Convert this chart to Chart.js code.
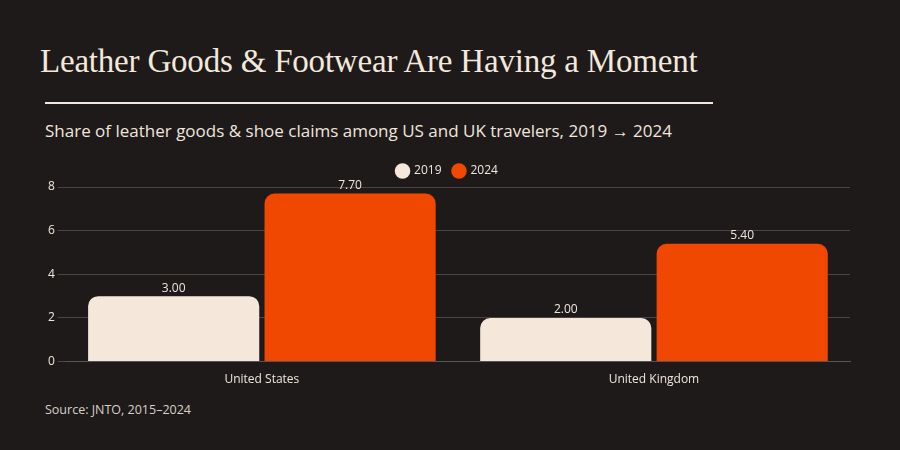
<!DOCTYPE html>
<html>
<head>
<meta charset="utf-8">
<script src="https://cdn.jsdelivr.net/npm/chart.js@4"></script>
<style>
  body { margin: 0; background: #1e1a1a; width: 900px; height: 450px; overflow: hidden; position: relative; font-family: 'Open Sans', sans-serif; }
  #title { position: absolute; left: 40px; top: 43px; color: #f3e8dc; font-family: 'Liberation Serif', serif; font-size: 33px; letter-spacing: -0.2px; }
  #rule { position: absolute; left: 45px; top: 102px; width: 668px; height: 2px; background: #f3e8dc; }
  #sub { position: absolute; left: 45px; top: 119px; color: #efe6dc; font-size: 17px; }
  #src { position: absolute; left: 45px; top: 401px; color: #d8d0c8; font-size: 12.5px; }
  #wrap { position: absolute; left: 0; top: 153px; width: 900px; height: 237px; }
</style>
</head>
<body>
<div id="title">Leather Goods &amp; Footwear Are Having a Moment</div>
<div id="rule"></div>
<div id="sub">Share of leather goods &amp; shoe claims among US and UK travelers, 2019 → 2024</div>
<div id="wrap"><canvas id="chart"></canvas></div>
<div id="src">Source: JNTO, 2015–2024</div>
<script>
const categories = ['United States', 'United Kingdom']
const values2019 = [3.0, 2.0]
const values2024 = [7.7, 5.4]

const valueLabels = {
  id: 'valueLabels',
  afterDatasetsDraw(chart) {
    const ctx = chart.ctx
    ctx.save()
    ctx.fillStyle = '#efe6dc'
    ctx.font = '12px "Open Sans"'
    ctx.textAlign = 'center'
    ctx.textBaseline = 'bottom'
    chart.data.datasets.forEach((ds, i) => {
      chart.getDatasetMeta(i).data.forEach((bar, j) => {
        ctx.fillText(ds.data[j].toFixed(2), bar.x, bar.y - 2)
      })
    })
    ctx.restore()
  }
}

new Chart(document.getElementById('chart'), {
  type: 'bar',
  data: {
    labels: categories,
    datasets: [
      { label: '2019', data: values2019, backgroundColor: '#f5e8da', borderRadius: { topLeft: 10, topRight: 10 }, borderSkipped: 'bottom' },
      { label: '2024', data: values2024, backgroundColor: '#f04800', borderRadius: { topLeft: 10, topRight: 10 }, borderSkipped: 'bottom' }
    ]
  },
  options: {
    responsive: true,
    maintainAspectRatio: false,
    animation: false,
    categoryPercentage: 0.9,
    barPercentage: 0.97,
    layout: { padding: { left: 45, right: 50 } },
    plugins: {
      legend: {
        labels: { color: '#efe6dc', usePointStyle: true, pointStyle: 'circle', boxWidth: 11, boxHeight: 11, padding: 12, font: { size: 12, family: 'Open Sans' } }
      },
      tooltip: { enabled: false }
    },
    scales: {
      x: {
        grid: { display: false },
        border: { color: '#555' },
        ticks: { color: '#efe6dc', font: { size: 12, family: 'Open Sans' } }
      },
      y: {
        min: 0, max: 8,
        ticks: { stepSize: 2, color: '#efe6dc', font: { size: 12, family: 'Open Sans' } },
        grid: { color: '#4a4545' },
        border: { display: false }
      }
    }
  },
  plugins: [valueLabels]
})
</script>
</body>
</html>
